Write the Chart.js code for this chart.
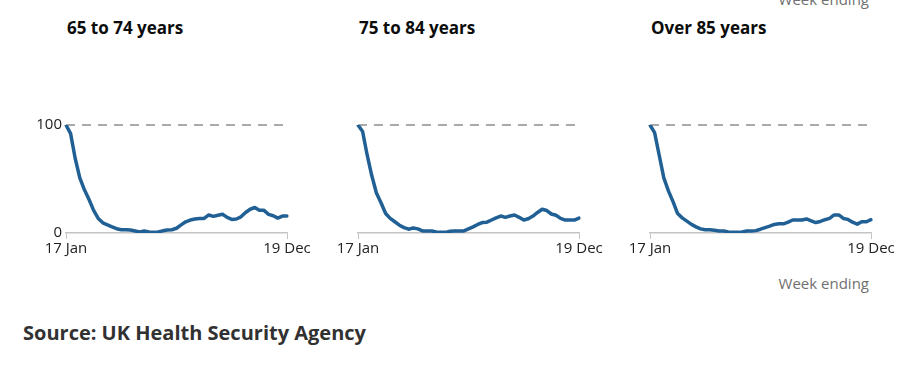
<!DOCTYPE html>
<html>
<head>
<meta charset="utf-8">
<script src="https://cdn.jsdelivr.net/npm/chart.js@4"></script>
<style>
  body { margin: 0; background: #fff; font-family: "Open Sans", sans-serif; }
  #wrap { position: relative; width: 902px; height: 367px; overflow: hidden; }
  canvas { position: absolute; }
  .title { position: absolute; top: 16px; font-size: 17px; font-weight: 700; color: #0b0c0c; line-height: 24px; }
  .note { position: absolute; font-size: 15px; color: #707070; line-height: 20px; }
  .source { position: absolute; left: 23px; top: 319px; font-size: 20px; font-weight: 700; color: #323132; line-height: 28px; }
</style>
</head>
<body>
<div id="wrap">
  <div class="note" style="right:33px; top:-11px;">Week ending</div>
  <div class="title" style="left:67px;">65 to 74 years</div>
  <div class="title" style="left:359px;">75 to 84 years</div>
  <div class="title" style="left:651px;">Over 85 years</div>
  <canvas id="c1" width="291" height="159" style="left:26px; top:100px;"></canvas>
  <canvas id="c2" width="291" height="159" style="left:318px; top:100px;"></canvas>
  <canvas id="c3" width="291" height="159" style="left:610px; top:100px;"></canvas>
  <div class="note" style="right:33px; top:273px;">Week ending</div>
  <div class="source">Source: UK Health Security Agency</div>
</div>
<script>
// week ending dates, 2021
const weeks = [
  "17 Jan", "24 Jan", "31 Jan", "7 Feb", "14 Feb", "21 Feb", "28 Feb",
  "7 Mar", "14 Mar", "21 Mar", "28 Mar", "4 Apr", "11 Apr", "18 Apr", "25 Apr",
  "2 May", "9 May", "16 May", "23 May", "30 May", "6 Jun", "13 Jun", "20 Jun", "27 Jun",
  "4 Jul", "11 Jul", "18 Jul", "25 Jul", "1 Aug", "8 Aug", "15 Aug", "22 Aug", "29 Aug",
  "5 Sep", "12 Sep", "19 Sep", "26 Sep", "3 Oct", "10 Oct", "17 Oct", "24 Oct", "31 Oct",
  "7 Nov", "14 Nov", "21 Nov", "28 Nov", "5 Dec", "12 Dec", "19 Dec"
];

const age65to74 = [
  100, 92, 69, 51, 40, 31, 21, 13.5, 9.4, 7.5, 5.7, 4, 3, 3, 2.8, 1.9, 1, 1.9, 1, 0.6,
  1, 2, 2.8, 3, 4.4, 7.5, 10.4, 12, 13, 13.5, 13.5, 16.7, 15.4, 16.4, 17.3, 14.5, 12.6,
  13, 15, 19, 22, 23.6, 21, 21, 17.3, 16, 13.8, 15.7, 15.7
];

const age75to84 = [
  100, 94, 72, 53, 37, 28, 18, 13.5, 10.4, 7.2, 5, 3.5, 4.7, 3.8, 1.9, 1.9, 1.9, 1, 0.6, 0.6,
  1.6, 1.9, 1.9, 1.9, 3.8, 5.7, 7.9, 9.7, 10, 12, 14, 15.7, 14.5, 15.7, 16.7, 14.5, 12,
  13.2, 15.7, 19, 22, 20.8, 17.6, 16.4, 13.5, 12, 12, 12, 13.8
];

const over85 = [
  100, 93, 72, 51, 39, 29, 18, 14, 11, 8, 5.7, 3.8, 3, 3, 2.5, 1.9, 1.9, 1, 0.6, 0.6,
  1, 1.9, 1.9, 2.2, 3.5, 5, 6.3, 7.9, 8.5, 8.5, 10, 12, 12, 12, 13, 11.3, 9.7,
  10.7, 12.3, 13.5, 16.7, 16.7, 13.5, 12.6, 10, 8.2, 10.4, 10.4, 12.3
];

const yTicks = [0, 100];

Chart.defaults.font.family = "'Open Sans', sans-serif";
Chart.defaults.font.size = 15;
Chart.defaults.color = "#222";

function createPanel(canvasID, values, showY) {
    let last = weeks.length - 1;
    return new Chart(document.getElementById(canvasID), {
        type: "line",
        data: {
            labels: weeks,
            datasets: [{
                data: values,
                borderColor: "#206095",
                borderWidth: 3.5,
                pointRadius: 0,
                tension: 0,
                borderJoinStyle: "round",
                borderCapStyle: "round",
                fill: false
            }]
        },
        options: {
            responsive: false,
            animation: false,
            devicePixelRatio: 1,
            layout: { padding: { top: 25, right: 30, left: 0, bottom: 0 } },
            plugins: {
                legend: { display: false },
                tooltip: { enabled: false }
            },
            scales: {
                x: {
                    grid: {
                        drawOnChartArea: false,
                        tickLength: 6,
                        lineWidth: 1,
                        color: (c) => (c.index === 0 || c.index === last) ? "#c4c4c4" : "rgba(0,0,0,0)"
                    },
                    border: { display: true, color: "#c4c4c4", width: 1.5 },
                    ticks: {
                        autoSkip: false,
                        maxRotation: 0,
                        padding: 1,
                        callback: (v, i) => (i === 0 || i === last) ? weeks[i] : ""
                    }
                },
                y: {
                    min: 0,
                    max: 100,
                    afterBuildTicks: (s) => { s.ticks = yTicks.map(v => ({ value: v })); },
                    afterFit: (s) => { s.width = 40; },
                    grid: {
                        drawTicks: false,
                        lineWidth: 2,
                        color: (c) => c.tick && c.tick.value === 100 ? "#aaaaaa" : "rgba(0,0,0,0)"
                    },
                    border: { display: false, dash: [9, 7] },
                    ticks: { display: showY, padding: 4 }
                }
            }
        }
    });
}

createPanel("c1", age65to74, true);
createPanel("c2", age75to84, false);
createPanel("c3", over85, false);
</script>
</body>
</html>
